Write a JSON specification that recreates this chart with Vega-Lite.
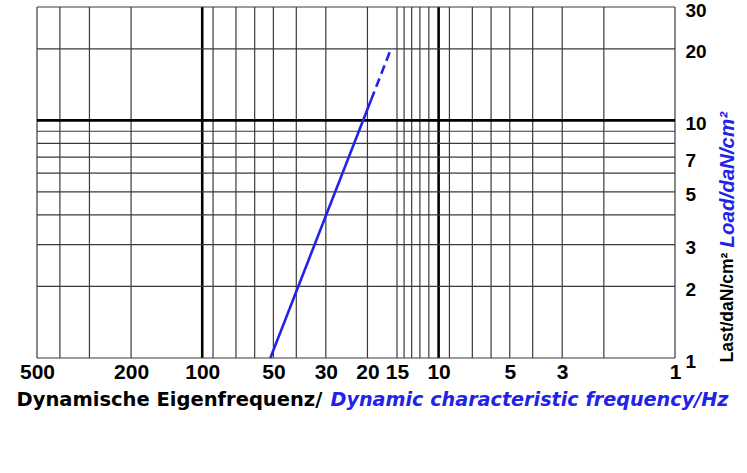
{
  "$schema": "https://vega.github.io/schema/vega-lite/v6.json",
  "width": 638,
  "height": 351,
  "autosize": {"type": "none"},
  "padding": {"left": 37, "top": 7, "right": 72, "bottom": 115},
  "background": "white",
  "config": {
    "view": {"stroke": null},
    "axis": {"grid": false, "ticks": false, "domain": false}
  },
  "datasets": {
    "vgrid": [
      {"f": 500}, {"f": 400}, {"f": 300}, {"f": 200}, {"f": 100}, {"f": 90}, {"f": 72}, {"f": 60},
      {"f": 50}, {"f": 40}, {"f": 30}, {"f": 20}, {"f": 15}, {"f": 14}, {"f": 13}, {"f": 12},
      {"f": 11}, {"f": 10}, {"f": 9}, {"f": 7.2}, {"f": 6}, {"f": 5}, {"f": 4}, {"f": 3}, {"f": 2}, {"f": 1}
    ],
    "hgrid": [
      {"load": 1}, {"load": 2}, {"load": 3}, {"load": 4}, {"load": 5}, {"load": 6}, {"load": 7},
      {"load": 8}, {"load": 9}, {"load": 10}, {"load": 20}, {"load": 30}
    ],
    "curve": [
      {"f": 51.5, "load": 1, "seg": "solid"},
      {"f": 19.3, "load": 12.2, "seg": "solid"},
      {"f": 19.3, "load": 12.2, "seg": "dashed"},
      {"f": 15.9, "load": 20, "seg": "dashed"}
    ]
  },
  "resolve": {"scale": {"x": "independent", "y": "independent"}, "axis": {"x": "independent", "y": "independent"}},
  "layer": [
    {
      "data": {"name": "vgrid"},
      "mark": {"type": "rule"},
      "encoding": {
        "x": {
          "field": "f", "type": "quantitative",
          "scale": {"type": "log", "domain": [1, 500], "reverse": true, "nice": false, "zero": false},
          "axis": {
            "orient": "bottom",
            "values": [500, 200, 100, 50, 30, 20, 15, 10, 5, 3, 1],
            "format": "d",
            "labelFont": "Liberation Sans", "labelFontWeight": "bold", "labelFontSize": 21, "labelColor": "black",
            "labelPadding": 3, "labelOverlap": false, "labelFlush": false, "labelBound": false,
            "title": "Dynamische Eigenfrequenz/",
            "titleFont": "DejaVu Sans", "titleFontWeight": "bold", "titleFontSize": 19.5, "titleColor": "black",
            "titleAlign": "left", "titleBaseline": "alphabetic", "titleX": -21, "titleY": 47, "titleAnchor": "start"
          }
        },
        "color": {"condition": {"test": "datum.f === 100 || datum.f === 10", "value": "#000000"}, "value": "#3a3a3a"},
        "strokeWidth": {"condition": {"test": "datum.f === 100 || datum.f === 10", "value": 2.6}, "value": 1.2}
      }
    },
    {
      "data": {"name": "hgrid"},
      "mark": {"type": "rule"},
      "encoding": {
        "y": {
          "field": "load", "type": "quantitative",
          "scale": {"type": "log", "domain": [1, 30], "nice": false, "zero": false},
          "axis": {
            "orient": "right",
            "values": [1, 2, 3, 5, 7, 10, 20, 30],
            "format": "d",
            "labelFont": "Liberation Sans", "labelFontWeight": "bold", "labelFontSize": 19, "labelColor": "black",
            "labelPadding": 10, "labelOffset": 3, "labelOverlap": false, "labelFlush": false, "labelBound": false,
            "labelAlign": "left", "labelBaseline": "middle",
            "title": "Last/daN/cm²",
            "titleFont": "Liberation Sans", "titleFontWeight": "bold", "titleFontSize": 17.5, "titleColor": "black",
            "titleAngle": 270, "titleAlign": "left", "titleBaseline": "middle", "titleX": 52, "titleY": 355
          }
        },
        "color": {"condition": {"test": "datum.load === 10", "value": "#000000"}, "value": "#3a3a3a"},
        "strokeWidth": {"condition": {"test": "datum.load === 10", "value": 2.6}, "value": 1.2}
      }
    },
    {
      "data": {"name": "curve"},
      "mark": {"type": "line", "color": "#2222e8", "strokeWidth": 2.6},
      "encoding": {
        "x": {
          "field": "f", "type": "quantitative",
          "scale": {"type": "log", "domain": [1, 500], "reverse": true, "nice": false, "zero": false},
          "axis": {
            "orient": "bottom", "labels": false,
            "title": "Dynamic characteristic frequency/Hz",
            "titleFont": "DejaVu Sans", "titleFontWeight": "bold", "titleFontStyle": "italic", "titleFontSize": 19.2,
            "titleColor": "#2222e8",
            "titleAlign": "left", "titleBaseline": "alphabetic", "titleX": 293, "titleY": 47, "titleAnchor": "start"
          }
        },
        "y": {
          "field": "load", "type": "quantitative",
          "scale": {"type": "log", "domain": [1, 30], "nice": false, "zero": false},
          "axis": {
            "orient": "right", "labels": false,
            "title": "Load/daN/cm²",
            "titleFont": "Liberation Sans", "titleFontWeight": "bold", "titleFontStyle": "italic", "titleFontSize": 20.5,
            "titleColor": "#2222e8",
            "titleAngle": 270, "titleAlign": "left", "titleBaseline": "middle", "titleX": 52, "titleY": 240
          }
        },
        "strokeDash": {
          "field": "seg", "type": "nominal",
          "scale": {"domain": ["solid", "dashed"], "range": [[1, 0], [9, 5]]},
          "legend": null
        }
      }
    }
  ]
}
